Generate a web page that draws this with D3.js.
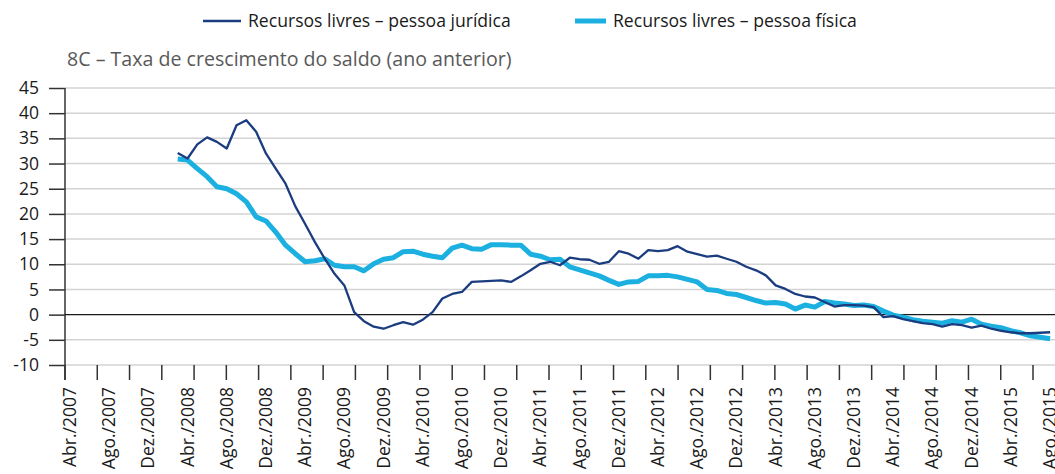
<!DOCTYPE html>
<html>
<head>
<meta charset="utf-8">
<script src="https://cdn.jsdelivr.net/npm/d3@7"></script>
<style>
  body { margin: 0; background: #fff; }
  svg text { font-family: "Open Sans", "Noto Sans", sans-serif; }
</style>
</head>
<body>
<div id="container"></div>
<script>
// x labels, one every 4 months starting Abr./2007 (category index 0)
const tickLabels = ["Abr./2007","Ago./2007","Dez./2007","Abr./2008","Ago./2008","Dez./2008",
  "Abr./2009","Ago./2009","Dez./2009","Abr./2010","Ago./2010","Dez./2010",
  "Abr./2011","Ago./2011","Dez./2011","Abr./2012","Ago./2012","Dez./2012",
  "Abr./2013","Ago./2013","Dez./2013","Abr./2014","Ago./2014","Dez./2014",
  "Abr./2015","Ago./2015"];

// series start at Mar./2008 (category index 11) and run monthly to Ago./2015
const firstIndex = 11;

const juridica = [32.1, 31.0, 33.8, 35.2, 34.3, 33.0, 37.6, 38.6, 36.3, 32.0,
  29.0, 26.0, 21.5, 18.0, 14.4, 11.1, 8.1, 5.8, 0.5, -1.3,
  -2.4, -2.8, -2.1, -1.5, -2.0, -1.0, 0.5, 3.2, 4.1, 4.5,
  6.5, 6.6, 6.7, 6.8, 6.5, 7.6, 8.8, 10.1, 10.5, 9.8,
  11.3, 11.0, 10.9, 10.1, 10.5, 12.6, 12.1, 11.1, 12.8, 12.6,
  12.8, 13.6, 12.5, 12.0, 11.5, 11.7, 11.1, 10.5, 9.5, 8.8,
  7.8, 5.8, 5.1, 4.1, 3.6, 3.4, 2.5, 1.6, 1.9, 1.9,
  1.8, 1.5, -0.5, -0.3, -0.9, -1.3, -1.7, -1.9, -2.4, -1.9,
  -2.1, -2.6, -2.2, -2.8, -3.2, -3.5, -3.7, -3.7, -3.6, -3.5];

const fisica = [30.9, 30.7, 29.0, 27.4, 25.4, 25.0, 24.0, 22.4, 19.4, 18.6,
  16.4, 13.8, 12.1, 10.5, 10.7, 11.1, 9.8, 9.5, 9.5, 8.7,
  10.1, 11.0, 11.3, 12.5, 12.6, 12.0, 11.6, 11.3, 13.2, 13.8,
  13.1, 13.0, 13.9, 13.9, 13.8, 13.8, 12.0, 11.6, 10.9, 11.0,
  9.5, 8.9, 8.3, 7.7, 6.8, 6.0, 6.5, 6.6, 7.7, 7.7,
  7.8, 7.5, 7.0, 6.5, 5.0, 4.8, 4.2, 4.0, 3.4, 2.8,
  2.3, 2.4, 2.1, 1.1, 1.9, 1.5, 2.6, 2.3, 2.1, 1.8,
  1.9, 1.6, 0.7, -0.1, -0.5, -1.0, -1.3, -1.5, -1.7, -1.2,
  -1.5, -0.9, -1.9, -2.3, -2.6, -3.2, -3.6, -4.2, -4.5, -4.8];

const yTicks = [45, 40, 35, 30, 25, 20, 15, 10, 5, 0, -5, -10];

const width = 1055, height = 474;
const marginLeft = 65, marginTop = 88, plotBottom = 365;

const x = d3.scaleLinear().domain([-0.5, 100.5]).range([marginLeft, width]);
const y = d3.scaleLinear().domain([-10, 45]).range([plotBottom, marginTop]);
// tick marks on the category axis are spaced independently of the labels
const tickX = d3.scaleLinear().domain([0, 30]).range([marginLeft, 1033]);

const svg = d3.select("#container").append("svg")
    .attr("width", width)
    .attr("height", height)
    .attr("viewBox", [0, 0, width, height]);

// gridlines
svg.append("g")
  .selectAll("line")
  .data(yTicks.filter(d => d !== 0))
  .join("line")
    .attr("x1", marginLeft).attr("x2", width)
    .attr("y1", d => y(d)).attr("y2", d => y(d))
    .attr("stroke", "#d3d3d3")
    .attr("stroke-width", 1.5);

// y axis
const yAxis = svg.append("g")
    .attr("transform", `translate(${marginLeft},0)`)
    .call(d3.axisLeft(y).tickValues(yTicks).tickSize(16).tickPadding(10).tickFormat(d => String(d)));
yAxis.select(".domain").remove();
yAxis.selectAll(".tick line").attr("stroke", "#333").attr("stroke-width", 1.5);
yAxis.selectAll(".tick text")
    .attr("fill", "#1a1a1a")
    .style("font-size", "17.5px");

// vertical axis line
svg.append("line")
    .attr("x1", marginLeft).attr("x2", marginLeft)
    .attr("y1", y(45)).attr("y2", plotBottom + 15)
    .attr("stroke", "#333").attr("stroke-width", 1.5);

// zero line
svg.append("line")
    .attr("x1", marginLeft).attr("x2", width)
    .attr("y1", y(0)).attr("y2", y(0))
    .attr("stroke", "#1a1a1a").attr("stroke-width", 1.3);

// x tick marks
svg.append("g")
  .selectAll("line")
  .data(d3.range(31))
  .join("line")
    .attr("x1", d => tickX(d)).attr("x2", d => tickX(d))
    .attr("y1", plotBottom).attr("y2", plotBottom + 15)
    .attr("stroke", "#333").attr("stroke-width", 1.5);

// x labels
svg.append("g")
  .selectAll("text")
  .data(tickLabels)
  .join("text")
    .attr("transform", (d, i) => `translate(${x(i * 4) + 6},387) rotate(-90)`)
    .attr("text-anchor", "end")
    .attr("fill", "#1a1a1a")
    .style("font-size", "17.5px")
    .text(d => d);

// lines
const line = d3.line()
    .x((d, i) => x(firstIndex + i))
    .y(d => y(d));

svg.append("path")
    .datum(fisica)
    .attr("fill", "none")
    .attr("stroke", "#1cb0e0")
    .attr("stroke-width", 5)
    .attr("stroke-linejoin", "round")
    .attr("d", line);

svg.append("path")
    .datum(juridica)
    .attr("fill", "none")
    .attr("stroke", "#1b3d80")
    .attr("stroke-width", 2.3)
    .attr("stroke-linejoin", "round")
    .attr("d", line);

// title
svg.append("text")
    .attr("x", 67).attr("y", 66)
    .attr("fill", "#595959")
    .style("font-size", "19.6px")
    .text("8C – Taxa de crescimento do saldo (ano anterior)");

// legend
const legend = [
  {label: "Recursos livres – pessoa jurídica", color: "#1b3d80", w: 2.5, x0: 203, x1: 241, tx: 248},
  {label: "Recursos livres – pessoa física", color: "#1cb0e0", w: 5, x0: 575, x1: 606, tx: 613}
];
const lg = svg.append("g");
lg.selectAll("line")
  .data(legend)
  .join("line")
    .attr("x1", d => d.x0).attr("x2", d => d.x1)
    .attr("y1", 21).attr("y2", 21)
    .attr("stroke", d => d.color)
    .attr("stroke-width", d => d.w);
lg.selectAll("text")
  .data(legend)
  .join("text")
    .attr("x", d => d.tx).attr("y", 27)
    .attr("fill", "#1a1a1a")
    .style("font-size", "17.6px")
    .text(d => d.label);
</script>
</body>
</html>
